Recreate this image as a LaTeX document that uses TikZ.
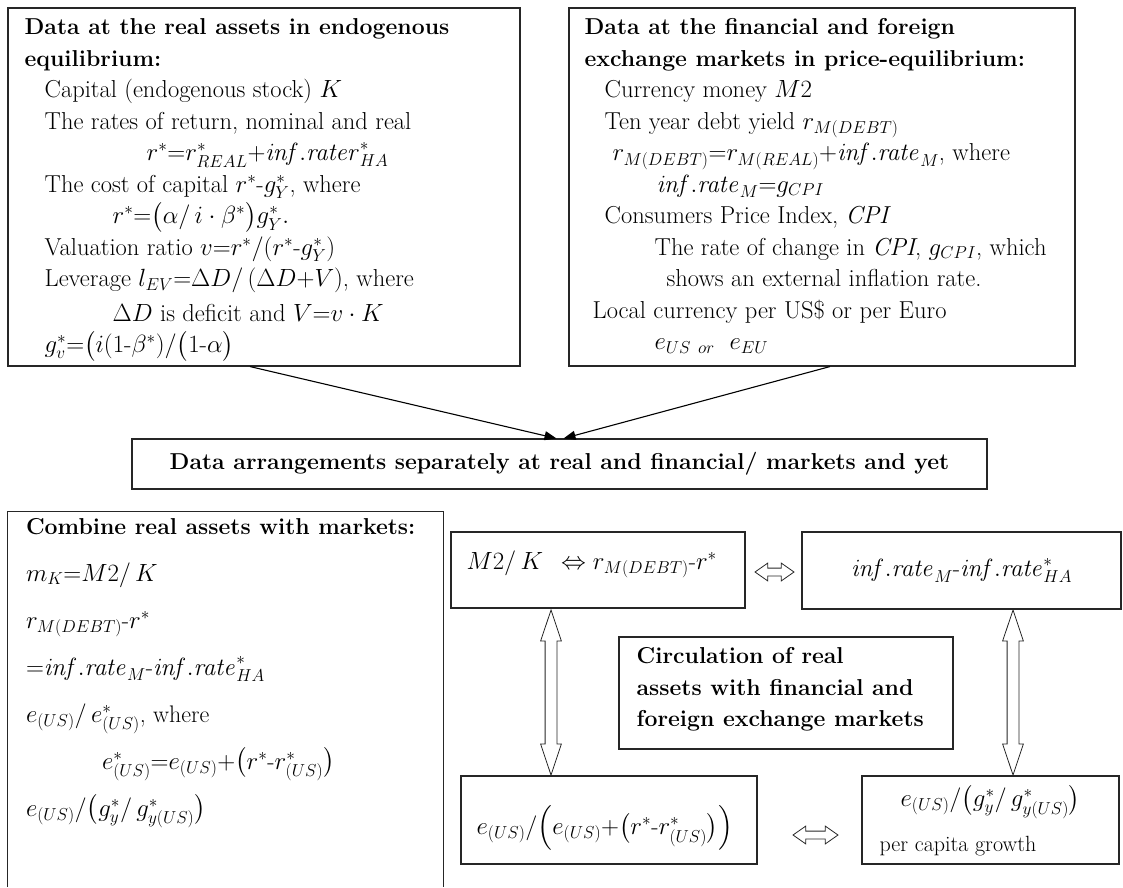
\documentclass[tikz,border=0pt]{standalone}
\usepackage{amsmath}
\usetikzlibrary{positioning,arrows.meta,shapes.arrows}
\tikzset{
  frame/.style={draw=black!85,line width=1.1pt,inner sep=0pt},
  txt/.style={align=left,inner sep=0pt,anchor=north west,font=\fontsize{24.5}{31.5}\selectfont},
  ttl/.style={font=\fontsize{23}{28}\selectfont\bfseries},
  ar/.style={-{Triangle[length=12pt,width=9pt]},line width=1.1pt},
  dblar/.style={double arrow,draw=black!85,line width=0.8pt,inner xsep=0pt},
  hdbl/.style={dblar,inner ysep=3.5pt,minimum width=17pt,double arrow head extend=5pt,double arrow tip angle=70},
  vdbl/.style={dblar,rotate=90,inner ysep=5.5pt,minimum width=20pt,minimum height=165pt,double arrow head extend=4.5pt,double arrow tip angle=37},
}
\newcommand{\ifr}{\mathit{inf.rate}}
\newcommand{\eq}{{=}}
\newcommand{\pl}{{+}}

\begin{document}
\begin{tikzpicture}[x=1pt,y=-1pt]
\useasboundingbox (0,0) rectangle (1123,887);

% the two data boxes on top
\node[frame,minimum width=512pt,minimum height=358pt] (real) at (264,187) {};
\node[frame,minimum width=506pt,minimum height=358pt] (fin) at (822,187) {};
\node[txt] (realtxt) at ([shift={(17,11)}]real.north west) {%
  \textbf{\fontsize{23}{28}\selectfont Data at the real assets in endogenous}\\
  \textbf{\fontsize{23}{28}\selectfont equilibrium:}\\
  \hspace*{20pt}Capital (endogenous stock) $K$\\
  \hspace*{20pt}The rates of return, nominal and real\\
  \hspace*{122pt}$r^{*}\eq r^{*}_{REAL}\pl\mathit{inf.rater}^{*}_{HA}$\\
  \hspace*{20pt}The cost of capital $r^{*}$-$g^{*}_{Y}$, where\\
  \hspace*{88pt}$r^{*}\eq\bigl(\alpha/\,i\cdot\beta^{*}\bigr)g^{*}_{Y}.$\\
  \hspace*{20pt}Valuation ratio $v\eq r^{*}/(r^{*}$-$g^{*}_{Y})$\\
  \hspace*{20pt}Leverage $l_{EV}\eq\Delta D/\,(\Delta D\pl V)$, where\\[3pt]
  \hspace*{88pt}$\Delta D$ is deficit and $V\eq v\cdot K$\\
  \hspace*{20pt}$g^{*}_{v}\eq\bigl(i(1$-$\beta^{*})/\bigl(1$-$\alpha\bigr)$};
\node[txt] (fintxt) at ([shift={(16,11)}]fin.north west) {%
  \textbf{\fontsize{23}{28}\selectfont Data at the financial and foreign}\\
  \textbf{\fontsize{23}{28}\selectfont exchange markets in price-equilibrium:}\\
  \hspace*{20pt}Currency money $M2$\\
  \hspace*{20pt}Ten year debt yield $r_{M(DEBT)}$\\
  \hspace*{28pt}$r_{M(DEBT)}\eq r_{M(REAL)}\pl\ifr_{M}$, where\\
  \hspace*{72pt}$\ifr_{M}\eq g_{CPI}$\\
  \hspace*{20pt}Consumers Price Index, \textit{CPI}\\
  \hspace*{70pt}The rate of change in \textit{CPI}, $g_{CPI}$, which\\
  \hspace*{82pt}shows an external inflation rate.\\
  \hspace*{8pt}Local currency per US\$ or per Euro\\
  \hspace*{70pt}$e_{US\ or}$\ \ $e_{EU}$};

\node[frame,ttl,minimum width=855pt,minimum height=50pt] (mid) at (559.5,464)
  {Data arrangements separately at real and financial/ markets and yet};
\draw[ar] ([xshift=-14pt]real.south) -- ([xshift=-3pt]mid.north);
\draw[ar] ([xshift=8pt]fin.south) -- ([xshift=4pt]mid.north);

% combining box, open at the bottom
\node[minimum width=435pt,minimum height=375pt,inner sep=0pt] (comb) at (225.5,699.5) {};
\draw[frame] (comb.south west) |- (comb.north east) -- (comb.south east);
\node[txt,font=\fontsize{24}{47}\selectfont] (combtxt) at ([shift={(18,6)}]comb.north west) {%
  \textbf{\fontsize{23}{47}\selectfont Combine real assets with markets:}\\
  $m_{K}\eq M2/\,K$\\
  $r_{M(DEBT)}$-$r^{*}$\\
  $\eq\ifr_{M}$-$\ifr^{*}_{HA}$\\
  $e_{(US)}/\,e^{*}_{(US)}$, where\\
  \hspace*{76pt}$e^{*}_{(US)}\eq e_{(US)}\pl\bigl(r^{*}$-$r^{*}_{(US)}\bigr)$\\
  $e_{(US)}/\bigl(g^{*}_{y}/\,g^{*}_{y(US)}\bigr)$};

% circulation
\node[frame,minimum width=294pt,minimum height=76pt] (m2k) at (598,570) {};
\node[frame,minimum width=319pt,minimum height=77pt,font=\fontsize{24}{28}\selectfont] (infl) at (961.5,570.5)
  {$\ifr_{M}$-$\ifr^{*}_{HA}$};
\node[frame,minimum width=334pt,minimum height=112pt] (circ) at (786,693) {};
\node[frame,minimum width=296pt,minimum height=88pt] (exr) at (609,820) {};
\node[frame,minimum width=257pt,minimum height=88pt] (gro) at (990.5,820) {};

\node[anchor=base west,inner sep=0pt,font=\fontsize{24}{28}\selectfont] (m2ktxt) at ([shift={(16,38)}]m2k.north west)
  {$M2/\,K$\hspace{18pt}$\Leftrightarrow r_{M(DEBT)}$-$r^{*}$};
\node[txt,font=\fontsize{23}{31.5}\selectfont\bfseries] (circtxt) at ([shift={(18,11)}]circ.north west)
  {Circulation of real\\assets with financial and\\foreign exchange markets};
\node[anchor=base west,inner sep=0pt,font=\fontsize{24}{28}\selectfont] (exrtxt) at ([shift={(16,59)}]exr.north west)
  {$e_{(US)}/\Bigl(e_{(US)}\pl\bigl(r^{*}$-$r^{*}_{(US)}\bigr)\Bigr)$};
\node[anchor=base,inner sep=0pt,font=\fontsize{24}{28}\selectfont] (grotxt) at ([shift={(0,31)}]gro.north)
  {$e_{(US)}/\bigl(g^{*}_{y}/\,g^{*}_{y(US)}\bigr)$};
\node[anchor=base west,inner sep=0pt,font=\fontsize{22}{28}\selectfont] (growth) at ([shift={(18,76)}]gro.north west)
  {per capita growth};

% double arrows between the boxes
\node[hdbl,minimum height=39pt] (h1) at (774.5,572) {};
\node[hdbl,minimum height=45pt] (h2) at (815.5,835) {};
\node[vdbl] (lv) at (551,692.5) {};
\node[vdbl] (rv) at (1013,692.5) {};
\end{tikzpicture}
\end{document}
